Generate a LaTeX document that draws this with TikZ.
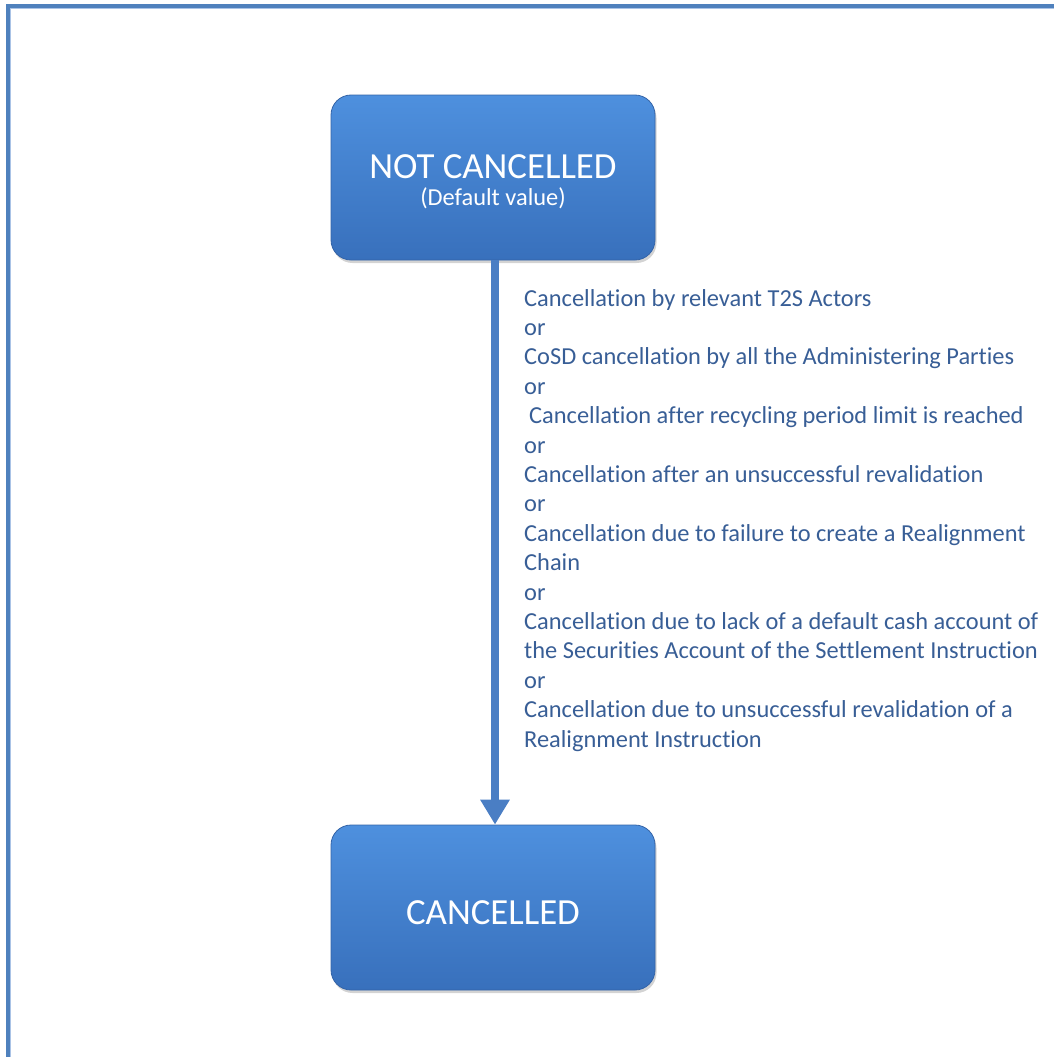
\documentclass[tikz,border=0pt]{standalone}
\usepackage{fontspec}
\setmainfont{Carlito}[Ligatures=NoCommon]
\usetikzlibrary{arrows.meta,shadows}
\definecolor{frameblue}{RGB}{79,129,189}
\definecolor{framelight}{RGB}{170,195,230}
\definecolor{boxtop}{RGB}{78,144,222}
\definecolor{boxbot}{RGB}{56,112,188}
\definecolor{boxedge}{RGB}{52,100,168}
\definecolor{arrowblue}{RGB}{74,126,196}
\definecolor{labelblue}{RGB}{56,94,150}
\tikzset{
  statebox/.style={rectangle, rounded corners=20pt, minimum width=324pt, minimum height=165pt,
    top color=boxtop, bottom color=boxbot, draw=boxedge, line width=0.8pt,
    text=white, align=center, inner sep=0pt,
    drop shadow={opacity=0.35, shadow xshift=1.5pt, shadow yshift=-3pt}},
  flow/.style={draw=arrowblue, line width=8pt, -{Triangle[width=28pt,length=25pt]}},
  condtext/.style={text=labelblue, align=left, inner sep=0pt, anchor=north west,
    font=\fontsize{24.4}{29.4}\selectfont}
}
\begin{document}
\begin{tikzpicture}[x=1pt,y=-1pt]
\useasboundingbox (0,0) rectangle (1054,1057);
% frame
\draw[framelight, line width=1.2pt] (10.6,1057) -- (10.6,8.6) -- (1054,8.6);
\draw[frameblue, line width=4pt] (8,1057) -- (8,6.5) -- (1054,6.5);
% states
\node[statebox] (nc) at (493,177.5) {\fontsize{36.8}{40}\selectfont\rule{0pt}{31.7pt}NOT CANCELLED\\[8pt]\fontsize{24.4}{29}\selectfont (Default value)};
\node[statebox] (c) at (493,907.5) {\fontsize{36.8}{40}\selectfont\rule{0pt}{34.7pt}CANCELLED};
\draw[flow] (nc.south -| 495,0) -- (c.north -| 495,0);
% conditions
\node[condtext] (conds) at (524,289) {Cancellation by relevant T2S Actors\\
or\\
CoSD cancellation by all the Administering Parties\\
or\\
\hspace{5pt}Cancellation after recycling period limit is reached\\
or\\
Cancellation after an unsuccessful revalidation\\
or\\
Cancellation due to failure to create a Realignment\\
Chain\\
or\\
Cancellation due to lack of a default cash account of\\
the Securities Account of the Settlement Instruction\\
or\\
Cancellation due to unsuccessful revalidation of a\\
Realignment Instruction};
\end{tikzpicture}
\end{document}
